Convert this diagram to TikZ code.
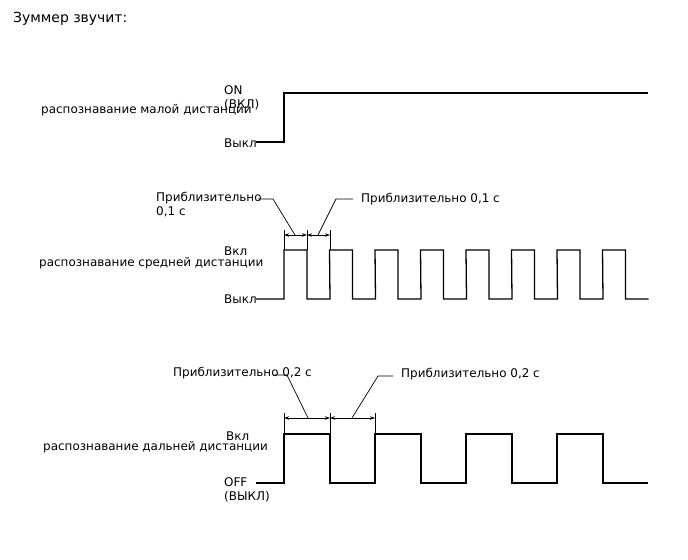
\documentclass[tikz,border=0pt]{standalone}
\usepackage{fontspec}
\setmainfont{DejaVu Sans}
\usetikzlibrary{arrows.meta}
\begin{document}
\begin{tikzpicture}[x=1bp,y=-1bp,
  txt/.style={font=\fontsize{12}{14}\selectfont,inner sep=0pt,anchor=west,align=left},
  sig/.style={line width=1.3bp,line join=miter},
  lead/.style={line width=0.7bp},
  ext/.style={line width=0.7bp},
  dim/.style={line width=0.7bp,{Stealth[length=5bp,width=3.5bp]}-{Stealth[length=5bp,width=3.5bp]}}]
\useasboundingbox (0,0) rectangle (688,560);
\node[txt,font=\fontsize{14}{16}\selectfont] (title) at (13,19) {Зуммер звучит:};

% ---- signal 1
\node[txt] (on1) at (224,98) {ON\\(ВКЛ)};
\node[txt] (off1) at (224,143) {Выкл};
\node[txt] (lab1) at (41,110) {распознавание малой дистанции};
\draw[sig] (256,142) -- (284,142) -- (284,93) -- (648,93);

% ---- signal 2
\node[txt] (on2) at (224,251) {Вкл};
\node[txt] (off2) at (224,299) {Выкл};
\node[txt] (lab2) at (39,263) {распознавание средней дистанции};
\draw[sig] (256,299) -- (284,299)
  \foreach \i in {0,...,7} { -- ({284+45.5*\i},250) -- ({307+45.5*\i},250) -- ({307+45.5*\i},299) -- ({330+45.5*\i},299) }
  -- (648,299);
% extension lines
\coordinate (e21) at (284,230); \coordinate (e22) at (307,230); \coordinate (e23) at (330,230);
\draw[ext] (e21) -- (284,250);
\draw[ext] (e22) -- (307,250);
\draw[ext] (e23) -- (330,250);
\draw[dim] (284,235) -- (307,235);
\draw[dim] (307,235) -- (330,235);
\node[txt] (a21) at (156,205) {Приблизительно\\0,1 с};
\node[txt] (a22) at (361,199) {Приблизительно 0,1 с};
\coordinate (p21) at (295,235);
\coordinate (p22) at (318,235);
\draw[lead] (258,199) -- (273,199) -- (p21);
\draw[lead] (p22) -- (336,199) -- (353,199);

% ---- signal 3
\node[txt] (on3) at (226,436) {Вкл};
\node[txt] (off3) at (224,490) {OFF\\(ВЫКЛ)};
\node[txt] (lab3) at (43,447) {распознавание дальней дистанции};
\draw[sig] (256,483) -- (284,483)
  \foreach \i in {0,...,3} { -- ({284+91*\i},434) -- ({330+91*\i},434) -- ({330+91*\i},483) -- ({375+91*\i},483) }
  -- (648,483);
\coordinate (e31) at (284,413); \coordinate (e32) at (330,413); \coordinate (e33) at (375,413);
\draw[ext] (e31) -- (284,434);
\draw[ext] (e32) -- (330,434);
\draw[ext] (e33) -- (375,434);
\draw[dim] (284,418) -- (330,418);
\draw[dim] (330,418) -- (375,418);
\node[txt] (a31) at (173,373) {Приблизительно 0,2 с};
\node[txt] (a32) at (401,374) {Приблизительно 0,2 с};
\coordinate (p31) at (308,418);
\coordinate (p32) at (352,418);
\draw[lead] (273,375) -- (287,375) -- (p31);
\draw[lead] (p32) -- (378,376) -- (393,376);
\end{tikzpicture}
\end{document}
